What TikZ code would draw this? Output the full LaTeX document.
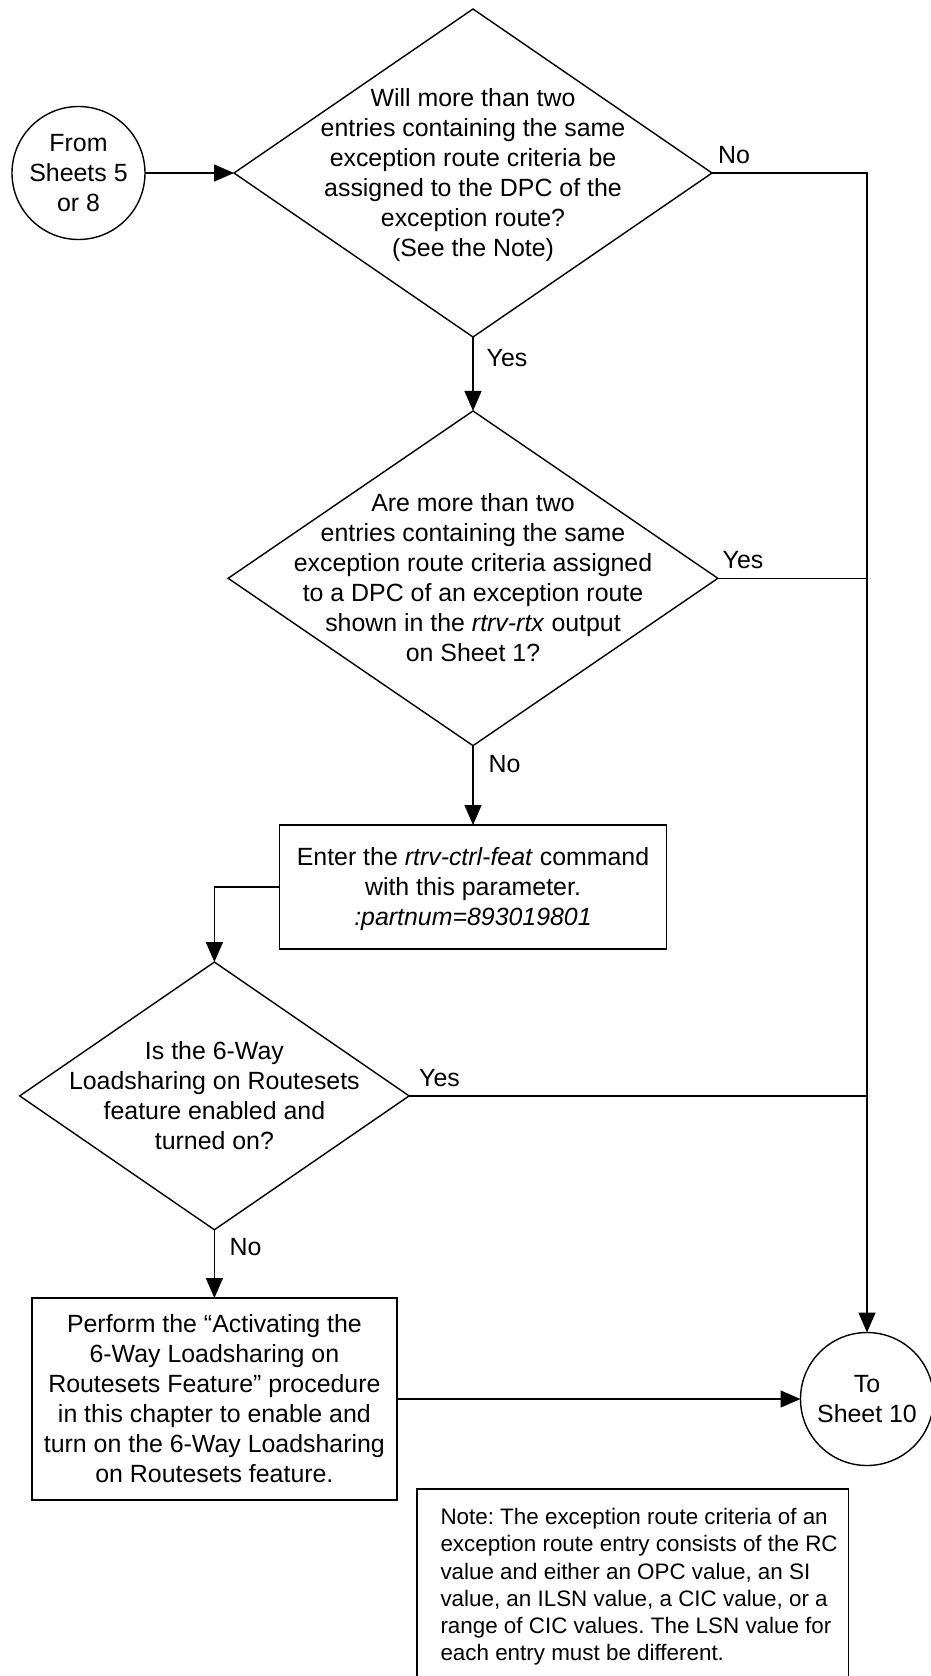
\documentclass[tikz,border=0pt]{standalone}
\usepackage{fontspec}
\setmainfont{Liberation Sans}
\usetikzlibrary{shapes.geometric,arrows.meta}
\newcommand\mlines[1]{\begin{tabular}{@{}c@{}}#1\end{tabular}}
\begin{document}
\frenchspacing
\begin{tikzpicture}[x=1pt,y=-1pt,
  line width=1.4pt,
  every node/.style={font=\fontsize{24.9}{30}\selectfont\frenchspacing, inner sep=0pt, outer sep=0pt},
  dec/.style={diamond, draw},
  body/.style={yshift=-2.3pt},
  proc/.style={rectangle, draw},
  term/.style={circle, draw, minimum size=133pt},
  notefont/.style={font=\fontsize{22.4}{27.2}\selectfont\frenchspacing, align=left},
  conn/.style={-{Triangle[length=20pt,width=17pt]}},
]
\useasboundingbox (0,0) rectangle (930,1676);

% terminals
\node[term] (from) at (78.5,173) {};
\node[body] (fromt) at (from) {\mlines{From\\Sheets 5\\or 8}};
\node[term] (to) at (867,1399) {};
\node[body] (tot) at (to) {\mlines{To\\Sheet 10}};

% decision 1
\node[dec, minimum width=478pt, minimum height=328pt] (d1) at (473,173) {};
\node[body] (d1t) at (d1) {\mlines{Will more than two\\entries containing the same\\exception route criteria be\\assigned to the DPC of the\\exception route?\\(See the Note)}};

% decision 2
\node[dec, minimum width=489.7pt, minimum height=334.7pt] (d2) at (473,578.3) {};
\node[body] (d2t) at (d2) {\mlines{Are more than two\\entries containing the same\\exception route criteria assigned\\to a DPC of an exception route\\shown in the \textit{rtrv-rtx} output\\on Sheet 1?}};

% process 1
\node[proc, minimum width=386.7pt, minimum height=124pt] (b1) at (473,887) {};
\node[body] (b1t) at (b1) {\mlines{Enter the \textit{rtrv-ctrl-feat} command\\with this parameter.\\\textit{:partnum=893019801}}};

% decision 3
\node[dec, minimum width=389.4pt, minimum height=267.7pt] (d3) at (214.4,1095.9) {};
\node[body] (d3t) at (d3) {\mlines{Is the 6-Way\\Loadsharing on Routesets\\feature enabled and\\turned on?}};

% process 2
\node[proc, minimum width=364.8pt, minimum height=202pt] (b2) at (214.4,1399) {};
\node[body] (b2t) at (b2) {\mlines{Perform the “Activating the\\6-Way Loadsharing on\\Routesets Feature” procedure\\in this chapter to enable and\\turn on the 6-Way Loadsharing\\on Routesets feature.}};

% note
\node[draw, rectangle, minimum width=431.6pt, minimum height=210pt, anchor=north west] (note) at (417,1489) {};
\node[notefont, anchor=north west] (notet) at (440.5,1508.5) {Note: The exception route criteria of an\\exception route entry consists of the RC\\value and either an OPC value, an SI\\value, an ILSN value, a CIC value, or a\\range of CIC values. The LSN value for\\each entry must be different.};

% connectors
\draw[conn] (from.east) -- (d1.west);
\draw[conn] (d1.south) -- (d2.north);
\draw[conn] (d2.south) -- (b1.north);
\draw[conn] (b1.west) -| (d3.north);
\draw[conn] (d3.south) -- (b2.north);
\draw[conn] (b2.east) -- (to.west);
\draw[conn] (d1.east) -| (to.north);
\draw (d2.east) -- (d2.east -| to.north);
\draw (d3.east) -- (d3.east -| to.north);

% labels
\node (l1) at (734,155) {No};
\node (l2) at (507,358) {Yes};
\node (l3) at (743,559.6) {Yes};
\node (l4) at (504.5,764) {No};
\node (l5) at (439.5,1077.6) {Yes};
\node (l6) at (245.5,1247.5) {No};
\end{tikzpicture}
\end{document}
